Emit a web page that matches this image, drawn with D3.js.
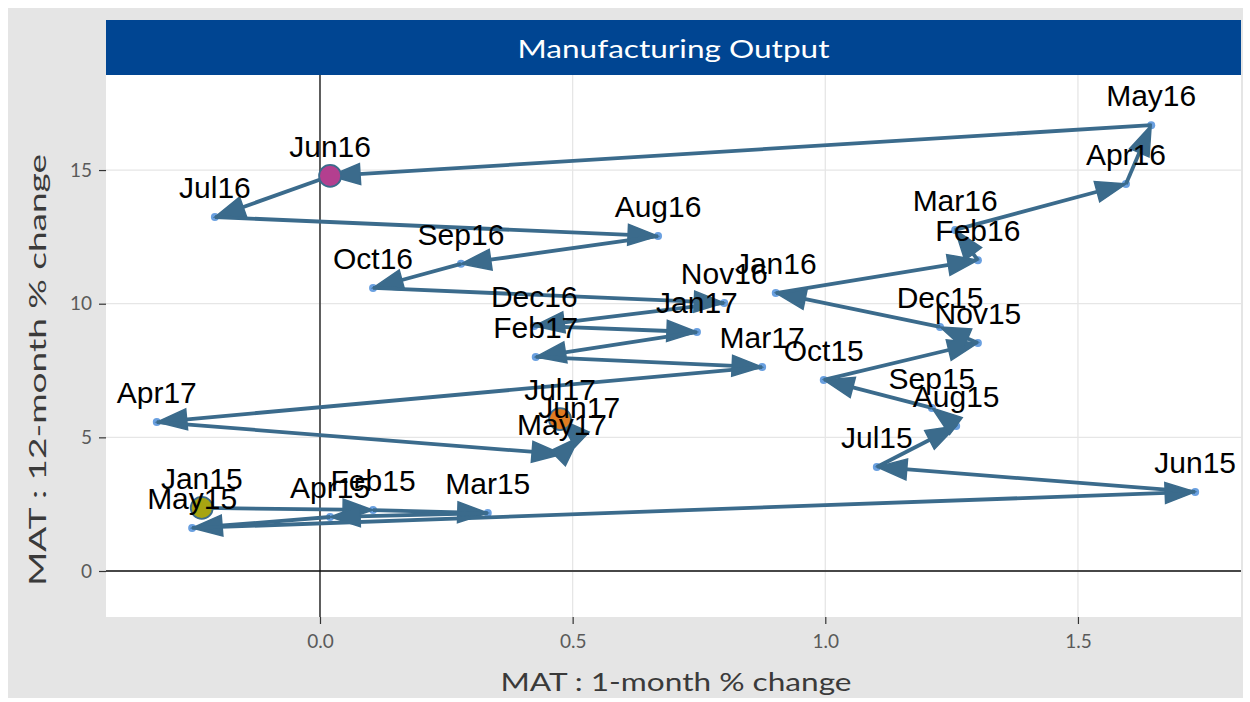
<!DOCTYPE html>
<html>
<head>
<meta charset="utf-8">
<script src="https://cdn.jsdelivr.net/npm/d3@7"></script>
<style>
  html, body { margin: 0; padding: 0; background: #ffffff; }
  svg { display: block; }
</style>
</head>
<body>
<svg id="chart" width="1250" height="702"></svg>
<script>
// Monthly manufacturing output: moving-annual-total changes, Jan 2015 – Jul 2017
const months = [
  "Jan15","Feb15","Mar15","Apr15","May15","Jun15","Jul15","Aug15","Sep15","Oct15","Nov15","Dec15",
  "Jan16","Feb16","Mar16","Apr16","May16","Jun16","Jul16","Aug16","Sep16","Oct16","Nov16","Dec16",
  "Jan17","Feb17","Mar17","Apr17","May17","Jun17","Jul17"
];
// MAT : 1-month % change
const oneMonth = [
  -0.234, 0.105, 0.332, 0.020, -0.253, 1.732, 1.102, 1.259, 1.211, 0.997, 1.302, 1.227,
   0.902, 1.302, 1.257, 1.595, 1.645, 0.020, -0.208, 0.669, 0.279, 0.105, 0.800, 0.424,
   0.746, 0.427, 0.875, -0.323, 0.479, 0.513, 0.475
];
// MAT : 12-month % change
const twelveMonth = [
   2.36, 2.28, 2.17, 2.02, 1.61, 2.96, 3.89, 5.42, 6.10, 7.15, 8.53, 9.13,
  10.40, 11.63, 12.76, 14.48, 16.68, 14.78, 13.24, 12.53, 11.49, 10.59, 10.03, 9.17,
   8.94, 8.01, 7.63, 5.57, 4.37, 5.01, 5.68
];
// Months picked out with a larger coloured marker
const highlightMonths = ["Jan15", "Jun16", "Jul17"];
const xTicks = [0, 0.5, 1.0, 1.5];
const yTicks = [0, 5, 10, 15];

const highlightFill = { Jan15: "#a7a412", Jun16: "#b33f8f", Jul17: "#e07b21" };
const pathColour = "#3b6b8c";
const dotColour = "#6aa0e0";

const data = months.map((m, i) => ({ month: m, x: oneMonth[i], y: twelveMonth[i] }));

const svg = d3.select("#chart");

// panel geometry
const panel = { left: 106, right: 1241, top: 75, bottom: 617 };

const x = d3.scaleLinear().domain([-0.4235, 1.8227]).range([panel.left, panel.right]);
const y = d3.scaleLinear().domain([-1.721, 18.556]).range([panel.bottom, panel.top]);

// outer plot background
svg.append("rect").attr("x", 8).attr("y", 8).attr("width", 1235).attr("height", 690)
  .attr("fill", "#e5e5e5");

// strip
svg.append("rect").attr("x", panel.left).attr("y", 20)
  .attr("width", panel.right - panel.left).attr("height", panel.top - 20)
  .attr("fill", "#004592");
svg.append("text")
  .attr("x", (panel.left + panel.right) / 2).attr("y", 48)
  .attr("text-anchor", "middle").attr("dominant-baseline", "central")
  .attr("font-family", "Lato, 'Open Sans', sans-serif").attr("font-size", 25)
  .attr("fill", "#ffffff")
  .attr("textLength", 312).attr("lengthAdjust", "spacingAndGlyphs")
  .text("Manufacturing Output");

// panel background
svg.append("rect").attr("x", panel.left).attr("y", panel.top)
  .attr("width", panel.right - panel.left).attr("height", panel.bottom - panel.top)
  .attr("fill", "#ffffff");

// grid
const grid = svg.append("g");
grid.selectAll("line.gx").data(xTicks).join("line")
  .attr("x1", d => x(d)).attr("x2", d => x(d))
  .attr("y1", panel.top).attr("y2", panel.bottom)
  .attr("stroke", "#e6e6e6").attr("stroke-width", 1.3);
grid.selectAll("line.gy").data(yTicks).join("line")
  .attr("x1", panel.left).attr("x2", panel.right)
  .attr("y1", d => y(d)).attr("y2", d => y(d))
  .attr("stroke", "#e6e6e6").attr("stroke-width", 1.3);

// reference lines at zero
svg.append("line").attr("x1", x(0)).attr("x2", x(0))
  .attr("y1", panel.top).attr("y2", panel.bottom)
  .attr("stroke", "#111").attr("stroke-width", 1.3);
svg.append("line").attr("x1", panel.left).attr("x2", panel.right)
  .attr("y1", y(0)).attr("y2", y(0))
  .attr("stroke", "#111").attr("stroke-width", 1.6);

// axes
const xAxis = svg.append("g").attr("transform", `translate(0,${panel.bottom})`)
  .call(d3.axisBottom(x).tickValues(xTicks).tickFormat(d3.format(".1f")).tickSize(7).tickPadding(11));
const yAxis = svg.append("g").attr("transform", `translate(${panel.left},0)`)
  .call(d3.axisLeft(y).tickValues(yTicks).tickFormat(d3.format("d")).tickSize(7).tickPadding(7));
[xAxis, yAxis].forEach(g => {
  g.select(".domain").remove();
  g.selectAll(".tick line").attr("stroke", "#333").attr("stroke-width", 1.2);
  g.selectAll(".tick text")
    .attr("font-family", "Lato, 'Open Sans', sans-serif").attr("font-size", 19)
    .attr("fill", "#5a5a5a");
});

// axis titles
svg.append("text")
  .attr("x", 676).attr("y", 681)
  .attr("text-anchor", "middle").attr("dominant-baseline", "central")
  .attr("font-family", "Lato, 'Open Sans', sans-serif").attr("font-size", 25)
  .attr("fill", "#3a3a3a")
  .attr("textLength", 351).attr("lengthAdjust", "spacingAndGlyphs")
  .text("MAT : 1-month % change");
svg.append("text")
  .attr("transform", "translate(36,370) rotate(-90)")
  .attr("text-anchor", "middle").attr("dominant-baseline", "central")
  .attr("font-family", "Lato, 'Open Sans', sans-serif").attr("font-size", 24)
  .attr("fill", "#3a3a3a")
  .attr("textLength", 432).attr("lengthAdjust", "spacingAndGlyphs")
  .text("MAT : 12-month % change");

// small month markers
svg.append("g").selectAll("circle").data(data).join("circle")
  .attr("cx", d => x(d.x)).attr("cy", d => y(d.y)).attr("r", 4)
  .attr("fill", dotColour);

// month-to-month path with closed arrowheads
const headLen = 30, headHalf = 10.5;
const segs = d3.pairs(data);
const arrows = svg.append("g");
segs.forEach(([a, b]) => {
  const x0 = x(a.x), y0 = y(a.y), x1 = x(b.x), y1 = y(b.y);
  const dx = x1 - x0, dy = y1 - y0;
  const len = Math.hypot(dx, dy) || 1;
  const ux = dx / len, uy = dy / len;
  const bx = x1 - ux * headLen, by = y1 - uy * headLen;
  const lineEndX = len > headLen ? bx + ux * 2 : x0, lineEndY = len > headLen ? by + uy * 2 : y0;
  arrows.append("line")
    .attr("x1", x0).attr("y1", y0).attr("x2", lineEndX).attr("y2", lineEndY)
    .attr("stroke", pathColour).attr("stroke-width", 3.8).attr("stroke-linecap", "butt");
  const p = d3.path();
  p.moveTo(x1, y1);
  p.lineTo(bx - uy * headHalf, by + ux * headHalf);
  p.lineTo(bx + uy * headHalf, by - ux * headHalf);
  p.closePath();
  arrows.append("path").attr("d", p.toString())
    .attr("fill", pathColour).attr("stroke", pathColour).attr("stroke-width", 1.5)
    .attr("stroke-linejoin", "miter");
});

// highlighted months
svg.append("g").selectAll("circle")
  .data(data.filter(d => highlightMonths.includes(d.month))).join("circle")
  .attr("cx", d => x(d.x)).attr("cy", d => y(d.y)).attr("r", 11)
  .attr("fill", d => highlightFill[d.month])
  .attr("stroke", pathColour).attr("stroke-width", 1.8);

// month labels
svg.append("g").selectAll("text").data(data).join("text")
  .attr("x", d => x(d.x)).attr("y", d => y(d.y) - 19)
  .attr("text-anchor", "middle")
  .attr("font-family", "'Liberation Sans', Arial, sans-serif").attr("font-size", 30)
  .attr("fill", "#000")
  .text(d => d.month);
</script>
</body>
</html>
